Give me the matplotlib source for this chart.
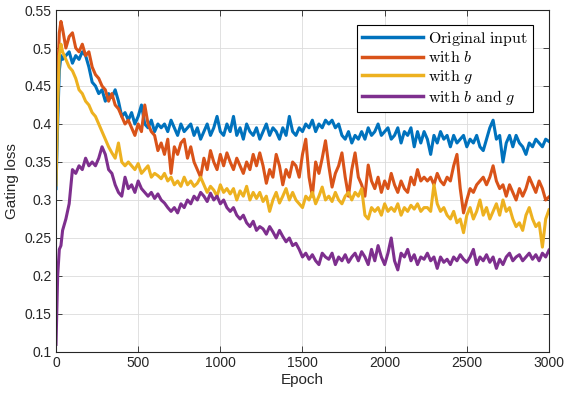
import matplotlib
matplotlib.use("Agg")
import matplotlib.pyplot as plt
import numpy as np

plt.rcParams['font.family'] = ['Liberation Sans', 'DejaVu Sans']
plt.rcParams['mathtext.fontset'] = 'cm'

epochs = [0, 10, 20, 30, 40] + list(range(60, 3001, 20))

original_input = [
    0.315, 0.40, 0.47, 0.49, 0.485,
    0.49, 0.495, 0.48, 0.49, 0.485, 0.495, 0.49, 0.475, 0.455, 0.45,
    0.44, 0.445, 0.43, 0.44, 0.435, 0.445, 0.43, 0.41, 0.415, 0.405,
    0.415, 0.40, 0.41, 0.425, 0.40, 0.395, 0.405, 0.39, 0.40, 0.395,
    0.40, 0.39, 0.405, 0.395, 0.385, 0.40, 0.39, 0.395, 0.40, 0.385,
    0.395, 0.38, 0.39, 0.40, 0.385, 0.395, 0.41, 0.39, 0.385, 0.40,
    0.39, 0.41, 0.385, 0.395, 0.38, 0.40, 0.39, 0.385, 0.395, 0.38,
    0.39, 0.40, 0.385, 0.395, 0.39, 0.38, 0.395, 0.385, 0.41, 0.39,
    0.385, 0.395, 0.39, 0.40, 0.395, 0.405, 0.39, 0.40, 0.395, 0.405,
    0.40, 0.405, 0.395, 0.40, 0.385, 0.38, 0.39, 0.375, 0.385, 0.38,
    0.39, 0.38, 0.395, 0.385, 0.39, 0.40, 0.385, 0.39, 0.395, 0.38,
    0.385, 0.395, 0.375, 0.39, 0.385, 0.395, 0.37, 0.39, 0.375, 0.39,
    0.38, 0.36, 0.385, 0.375, 0.39, 0.38, 0.385, 0.37, 0.385, 0.375,
    0.38, 0.385, 0.37, 0.38, 0.375, 0.385, 0.37, 0.365, 0.38, 0.395,
    0.405, 0.38, 0.385, 0.35, 0.375, 0.385, 0.37, 0.385, 0.375, 0.37,
    0.36, 0.375, 0.37, 0.38, 0.375, 0.37, 0.38, 0.377,
]

with_b = [
    0.37, 0.46, 0.52, 0.535, 0.525,
    0.50, 0.515, 0.52, 0.50, 0.495, 0.505, 0.49, 0.495, 0.475, 0.465,
    0.46, 0.45, 0.445, 0.43, 0.44, 0.425, 0.42, 0.41, 0.40, 0.405,
    0.395, 0.385, 0.40, 0.39, 0.425, 0.40, 0.39, 0.385, 0.365, 0.375,
    0.36, 0.38, 0.335, 0.37, 0.36, 0.375, 0.38, 0.355, 0.37, 0.35,
    0.34, 0.33, 0.355, 0.34, 0.365, 0.35, 0.34, 0.36, 0.345, 0.362,
    0.35, 0.34, 0.355, 0.345, 0.335, 0.35, 0.34, 0.36, 0.345, 0.362,
    0.345, 0.322, 0.34, 0.33, 0.36, 0.345, 0.32, 0.34, 0.33, 0.35,
    0.345, 0.33, 0.36, 0.38, 0.33, 0.305, 0.35, 0.335, 0.355, 0.378,
    0.345, 0.317, 0.335, 0.345, 0.362, 0.33, 0.305, 0.34, 0.362, 0.33,
    0.32, 0.305, 0.346, 0.325, 0.315, 0.33, 0.31, 0.325, 0.315, 0.335,
    0.32, 0.31, 0.325, 0.315, 0.31, 0.33, 0.32, 0.34, 0.325, 0.33,
    0.325, 0.33, 0.32, 0.335, 0.325, 0.32, 0.33, 0.325, 0.345, 0.36,
    0.315, 0.283, 0.30, 0.315, 0.31, 0.32, 0.325, 0.33, 0.32, 0.33,
    0.345, 0.325, 0.315, 0.32, 0.305, 0.32, 0.31, 0.30, 0.315, 0.305,
    0.315, 0.33, 0.32, 0.31, 0.325, 0.315, 0.30, 0.304,
]

with_g = [
    0.32, 0.42, 0.49, 0.505, 0.495,
    0.485, 0.475, 0.47, 0.46, 0.445, 0.44, 0.43, 0.425, 0.415, 0.41,
    0.40, 0.39, 0.38, 0.37, 0.362, 0.355, 0.375, 0.35, 0.345, 0.35,
    0.345, 0.34, 0.348, 0.335, 0.34, 0.345, 0.33, 0.335, 0.332, 0.328,
    0.335, 0.325, 0.33, 0.32, 0.325, 0.318, 0.33, 0.32, 0.325, 0.318,
    0.322, 0.33, 0.32, 0.31, 0.318, 0.313, 0.305, 0.32, 0.31, 0.315,
    0.308, 0.315, 0.30, 0.312, 0.305, 0.318, 0.30, 0.31, 0.302, 0.31,
    0.298, 0.305, 0.285, 0.30, 0.31, 0.296, 0.305, 0.315, 0.30, 0.31,
    0.30, 0.295, 0.29, 0.305, 0.30, 0.31, 0.295, 0.305, 0.317, 0.30,
    0.305, 0.298, 0.31, 0.30, 0.295, 0.305, 0.31, 0.30, 0.31, 0.305,
    0.315, 0.28, 0.275, 0.29, 0.285, 0.29, 0.28, 0.295, 0.285, 0.29,
    0.285, 0.295, 0.28, 0.29, 0.285, 0.293, 0.288, 0.295, 0.285, 0.29,
    0.29, 0.285, 0.32, 0.295, 0.285, 0.29, 0.28, 0.275, 0.285, 0.27,
    0.275, 0.257, 0.28, 0.29, 0.275, 0.285, 0.30, 0.28, 0.29, 0.275,
    0.285, 0.295, 0.28, 0.30, 0.285, 0.29, 0.275, 0.265, 0.27, 0.26,
    0.28, 0.29, 0.275, 0.265, 0.27, 0.238, 0.275, 0.287,
]

with_b_and_g = [
    0.11, 0.20, 0.235, 0.24, 0.26,
    0.275, 0.295, 0.34, 0.335, 0.345, 0.34, 0.355, 0.345, 0.35, 0.345,
    0.355, 0.37, 0.36, 0.34, 0.335, 0.32, 0.31, 0.305, 0.33, 0.315,
    0.32, 0.31, 0.325, 0.315, 0.31, 0.305, 0.31, 0.302, 0.308, 0.30,
    0.296, 0.29, 0.285, 0.29, 0.283, 0.295, 0.29, 0.30, 0.295, 0.305,
    0.30, 0.31, 0.305, 0.298, 0.309, 0.30, 0.305, 0.295, 0.30, 0.29,
    0.285, 0.29, 0.28, 0.275, 0.28, 0.27, 0.265, 0.272, 0.26, 0.265,
    0.262, 0.255, 0.265, 0.258, 0.25, 0.26, 0.252, 0.245, 0.25, 0.24,
    0.243, 0.235, 0.225, 0.23, 0.222, 0.228, 0.22, 0.215, 0.23, 0.225,
    0.222, 0.23, 0.215, 0.225, 0.22, 0.228, 0.218, 0.225, 0.23, 0.22,
    0.232, 0.225, 0.215, 0.235, 0.22, 0.24, 0.225, 0.215, 0.23, 0.25,
    0.22, 0.208, 0.23, 0.225, 0.235, 0.22, 0.228, 0.215, 0.225, 0.222,
    0.23, 0.22, 0.225, 0.21, 0.225, 0.218, 0.222, 0.215, 0.225, 0.22,
    0.228, 0.222, 0.218, 0.225, 0.235, 0.215, 0.225, 0.22, 0.228, 0.218,
    0.225, 0.21, 0.222, 0.215, 0.225, 0.23, 0.22, 0.225, 0.228, 0.22,
    0.225, 0.23, 0.222, 0.228, 0.22, 0.23, 0.225, 0.234,
]

labels = [r'$\mathrm{Original\ input}$', r'$\mathrm{with}\ b$',
          r'$\mathrm{with}\ g$', r'$\mathrm{with}\ b\ \mathrm{and}\ g$']
colors = ['#0072BD', '#D95319', '#EDB120', '#7E2F8E']
series = [original_input, with_b, with_g, with_b_and_g]

xticks = [0, 500, 1000, 1500, 2000, 2500, 3000]
yticks = [0.1, 0.15, 0.2, 0.25, 0.3, 0.35, 0.4, 0.45, 0.5, 0.55]
ytick_labels = ['0.1', '0.15', '0.2', '0.25', '0.3', '0.35', '0.4', '0.45', '0.5', '0.55']

fig = plt.figure(figsize=(5.67, 3.97), dpi=100)
ax = fig.add_axes([0.0988, 0.1134, 0.8694, 0.8614])

for y, c, lab in zip(series, colors, labels):
    ax.plot(epochs, y, color=c, lw=2.2, label=lab)

ax.set_xlim(0, 3000)
ax.set_ylim(0.1, 0.55)
ax.set_xticks(xticks)
ax.set_yticks(yticks)
ax.set_yticklabels(ytick_labels)
ax.grid(True, color='#dcdcdc', lw=0.6)
ax.set_axisbelow(True)
ax.tick_params(direction='in', top=True, right=True, labelsize=10, length=4, width=0.6, pad=3,
               colors='#262626')
for s in ax.spines.values():
    s.set_linewidth(0.8)
    s.set_color('#262626')
ax.set_xlabel('Epoch', fontsize=11, labelpad=2, color='#262626')
ax.set_ylabel('Gating loss', fontsize=11, labelpad=4, color='#262626')

leg = ax.legend(loc='upper right', bbox_to_anchor=(0.9675, 0.956), fontsize=11.5,
                handlelength=3.8, handletextpad=0.35, borderpad=0.3, labelspacing=0.15,
                borderaxespad=0.0,
                fancybox=False, framealpha=1, edgecolor='black')
leg.get_frame().set_linewidth(0.8)
for line in leg.get_lines():
    line.set_linewidth(2.5)

fig.savefig('out.png', dpi=100)
